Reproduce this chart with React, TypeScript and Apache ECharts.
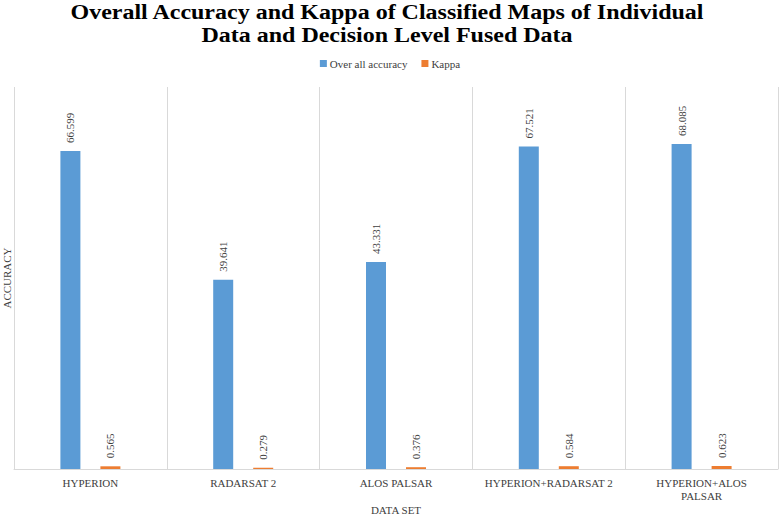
import React, { useEffect, useRef } from "react";
import * as echarts from "echarts";

const categories = [
  "HYPERION",
  "RADARSAT 2",
  "ALOS PALSAR",
  "HYPERION+RADARSAT 2",
  "HYPERION+ALOS PALSAR",
];
const accuracy = [66.599, 39.641, 43.331, 67.521, 68.085];
const kappa = [0.565, 0.279, 0.376, 0.584, 0.623];
const seriesNames = ["Over all accuracy", "Kappa"];
const titleText =
  "Overall Accuracy and Kappa of Classified Maps of Individual\nData and Decision Level Fused Data";

const FONT = "'Liberation Serif', 'Times New Roman', serif";

export default function App() {
  const ref = useRef<HTMLDivElement>(null);
  useEffect(() => {
    if (!ref.current) return;
    const chart = echarts.init(ref.current, undefined, { renderer: "svg" });
    const labelCfg = {
      show: true,
      position: "top",
      rotate: 90,
      align: "left",
      verticalAlign: "middle",
      distance: 8,
      fontSize: 11,
      fontFamily: FONT,
      color: "#404040",
    };
    chart.setOption({
      animation: false,
      textStyle: { fontFamily: FONT },
      graphic: [
        {
          type: "text",
          x: 387,
          y: 1,
          scaleX: 1.2,
          scaleY: 1,
          style: {
            text: titleText,
            textAlign: "center",
            textVerticalAlign: "top",
            fontFamily: FONT,
            fontSize: 20,
            fontWeight: "bold",
            lineHeight: 23,
            fill: "#000",
          },
        },
      ],
      legend: {
        top: 53,
        left: "center",
        itemWidth: 7,
        itemHeight: 7,
        itemGap: 14,
        icon: "rect",
        textStyle: { fontFamily: FONT, fontSize: 11, color: "#404040", padding: [0, 0, 0, -2] },
        data: seriesNames,
      },
      grid: { left: 14, right: 2, top: 87, bottom: 47, containLabel: false, outerBoundsMode: "none" },
      xAxis: {
        type: "category",
        data: categories,
        name: "DATA SET",
        nameLocation: "middle",
        nameGap: 35,
        nameMoveOverlap: false,
        nameTextStyle: { fontFamily: FONT, fontSize: 11, color: "#404040" },
        axisTick: { show: false },
        axisLine: { lineStyle: { color: "#d9d9d9" } },
        splitLine: { show: true, lineStyle: { color: "#d9d9d9" } },
        axisLabel: {
          interval: 0,
          margin: 7,
          fontFamily: FONT,
          fontSize: 11,
          color: "#404040",
          lineHeight: 13,
          formatter: (v: string) => (v.length > 19 ? v.replace("+ALOS ", "+ALOS\n") : v),
        },
      },
      yAxis: {
        type: "value",
        min: 0,
        max: 80,
        name: "ACCURACY",
        nameLocation: "middle",
        nameGap: 2,
        nameMoveOverlap: false,
        nameTextStyle: { fontFamily: FONT, fontSize: 11, color: "#404040" },
        axisLabel: { show: false },
        axisLine: { show: false },
        axisTick: { show: false },
        splitLine: { show: false },
      },
      series: [
        {
          name: seriesNames[0],
          type: "bar",
          data: accuracy,
          barWidth: 20,
          barGap: "100%",
          itemStyle: { color: "#5B9BD5" },
          label: { ...labelCfg, formatter: (p: any) => p.value.toFixed(3) },
        },
        {
          name: seriesNames[1],
          type: "bar",
          data: kappa,
          barWidth: 20,
          itemStyle: { color: "#ED7D31" },
          label: { ...labelCfg, formatter: (p: any) => p.value.toFixed(3) },
        },
      ],
    });
    return () => chart.dispose();
  }, []);
  return (
    <div
      ref={ref}
      style={{ position: "fixed", left: 0, top: 0, width: 780, height: 516, background: "#fff" }}
    />
  );
}
